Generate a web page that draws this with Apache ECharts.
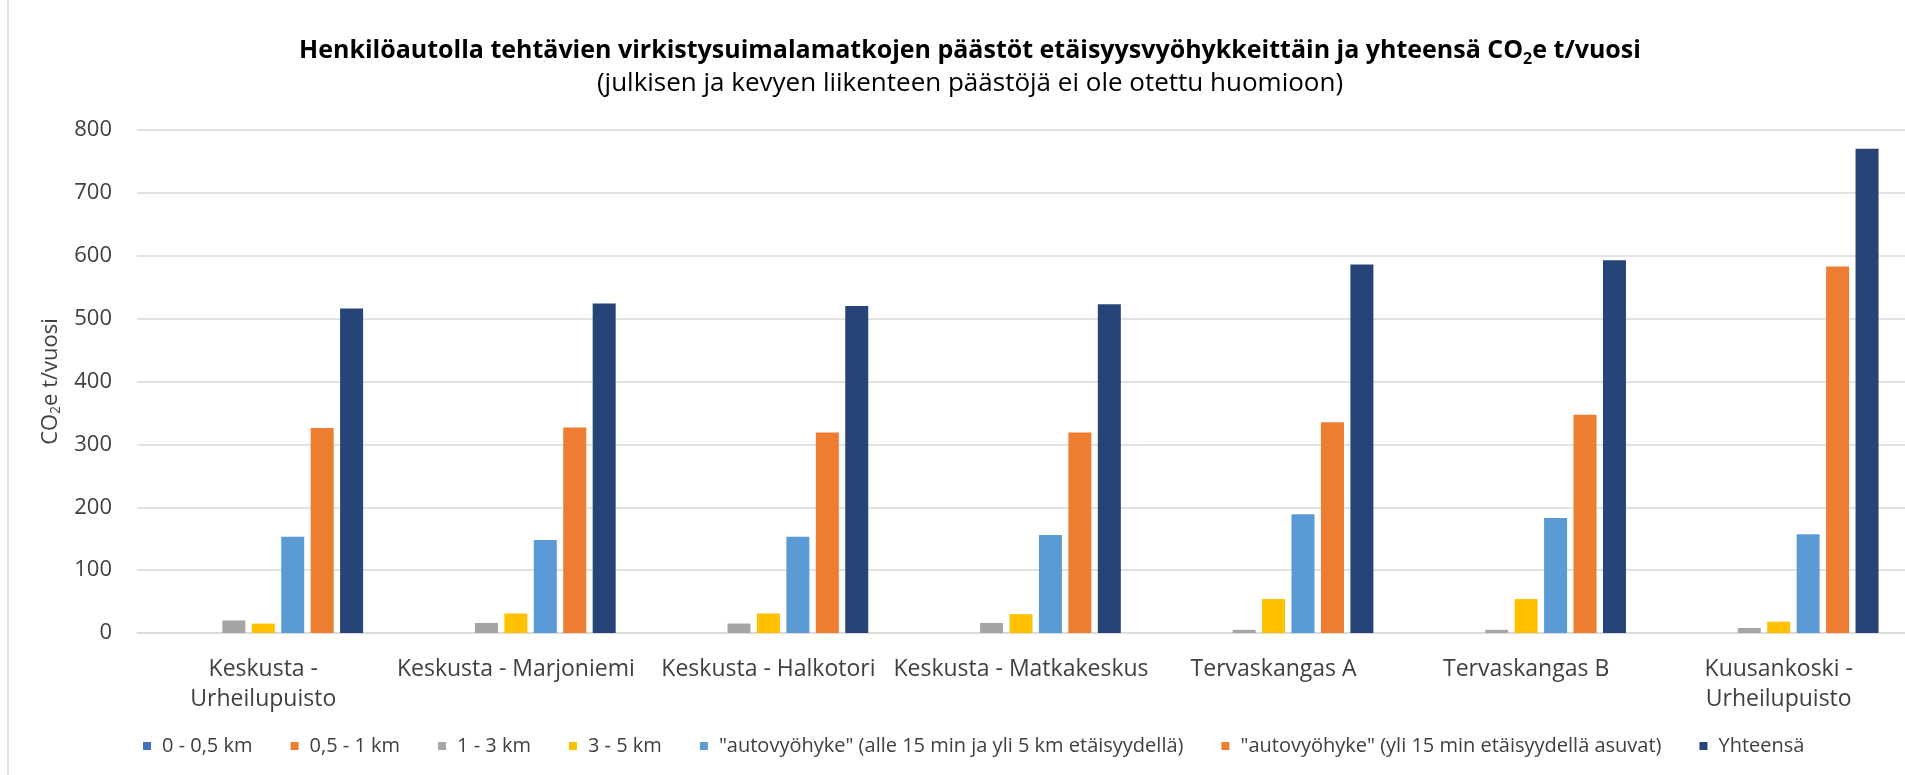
<!DOCTYPE html>
<html>
<head>
<meta charset="utf-8">
<title>Virkistysuimalamatkojen päästöt</title>
<script src="https://cdn.jsdelivr.net/npm/echarts@6/dist/echarts.min.js"></script>
<style>
  html, body { margin: 0; padding: 0; background: #fff; }
  #chart { width: 1905px; height: 775px; }
</style>
</head>
<body>
<div id="chart"></div>
<script>
// uimalat / reitit
const categories = [
  'Keskusta -\nUrheilupuisto',
  'Keskusta - Marjoniemi',
  'Keskusta - Halkotori',
  'Keskusta - Matkakeskus',
  'Tervaskangas A',
  'Tervaskangas B',
  'Kuusankoski -\nUrheilupuisto'
]

// päästöt etäisyysvyöhykkeittäin, CO2e t/vuosi
const zone0to05 = [0, 0, 0, 0, 0, 0, 0]
const zone05to1 = [0, 0, 0, 0, 0, 0, 0]
const zone1to3 = [20, 16, 15, 16, 5, 5, 8]
const zone3to5 = [15, 31, 31, 30, 54, 54, 18]
const carZoneNear = [153, 148, 153, 156, 189, 183, 157]
const carZoneFar = [326, 327, 319, 319, 335, 347, 583]
const total = [516, 524, 520, 523, 586, 593, 770]

const seriesNames = [
  '0 - 0,5 km',
  '0,5 - 1 km',
  '1 - 3 km',
  '3 - 5 km',
  '"autovyöhyke" (alle 15 min ja yli 5 km etäisyydellä)',
  '"autovyöhyke" (yli 15 min etäisyydellä asuvat)',
  'Yhteensä'
]

const yTicks = [0, 100, 200, 300, 400, 500, 600, 700, 800]

const colors = ['#4472C4', '#ED7D31', '#A5A5A5', '#FFC000', '#5B9BD5', '#ED7D31', '#264478']
const font = "'Open Sans', sans-serif"
const textColor = '#404040'
const gridColor = '#D9D9D9'

const chart = echarts.init(document.getElementById('chart'))

const values = [zone0to05, zone05to1, zone1to3, zone3to5, carZoneNear, carZoneFar, total]

const option = {
  backgroundColor: '#fff',
  animation: false,
  color: colors,
  title: {
    left: 970,
    top: 35,
    padding: 0,
    textAlign: 'center',
    itemGap: 4,
    text: '{t|Henkilöautolla tehtävien virkistysuimalamatkojen päästöt etäisyysvyöhykkeittäin ja yhteensä CO}{s|2}{t|e t/vuosi}',
    textStyle: {
      rich: {
        t: {fontFamily: font, fontSize: 25, fontWeight: 'bold', color: '#000', lineHeight: 32},
        s: {fontFamily: font, fontSize: 16, fontWeight: 'bold', color: '#000', lineHeight: 16, verticalAlign: 'bottom'}
      }
    },
    subtext: '(julkisen ja kevyen liikenteen päästöjä ei ole otettu huomioon)',
    subtextStyle: {fontFamily: font, fontSize: 26, color: '#000', lineHeight: 32}
  },
  legend: {
    left: 143,
    top: 734,
    padding: 0,
    itemWidth: 8,
    itemHeight: 8,
    itemGap: 38,
    icon: 'rect',
    data: seriesNames,
    textStyle: {fontFamily: font, fontSize: 20, color: textColor, padding: [0, 0, 0, 6], lineHeight: 24}
  },
  grid: {left: 137, right: 0, top: 130, bottom: 142},
  xAxis: {
    type: 'category',
    data: categories,
    axisLine: {show: true, lineStyle: {color: gridColor, width: 1.5}},
    axisTick: {show: false},
    axisLabel: {
      interval: 0,
      margin: 21,
      fontFamily: font,
      fontSize: 23,
      lineHeight: 30,
      color: textColor
    }
  },
  yAxis: {
    type: 'value',
    min: yTicks[0],
    max: yTicks[yTicks.length - 1],
    interval: yTicks[1] - yTicks[0],
    axisLine: {show: false},
    axisTick: {show: false},
    splitLine: {lineStyle: {color: gridColor, width: 1.5}},
    axisLabel: {margin: 25, fontFamily: font, fontSize: 22, color: textColor},
    name: '{a|CO}{s|2}{a|e t/vuosi}',
    nameLocation: 'middle',
    nameGap: 70,
    nameRotate: 90,
    nameTextStyle: {
      rich: {
        a: {fontFamily: font, fontSize: 22, color: textColor, lineHeight: 26},
        s: {fontFamily: font, fontSize: 14, color: textColor, lineHeight: 14, verticalAlign: 'bottom'}
      }
    }
  },
  series: seriesNames.map((name, i) => ({
    name: name,
    type: 'bar',
    data: values[i],
    barWidth: 23,
    barGap: '28%',
    itemStyle: {color: colors[i]}
  })),
  graphic: [{
    type: 'line',
    shape: {x1: 8, y1: 0, x2: 8, y2: 775},
    style: {stroke: gridColor, lineWidth: 1.5}
  }]
}

chart.setOption(option)
</script>
</body>
</html>
